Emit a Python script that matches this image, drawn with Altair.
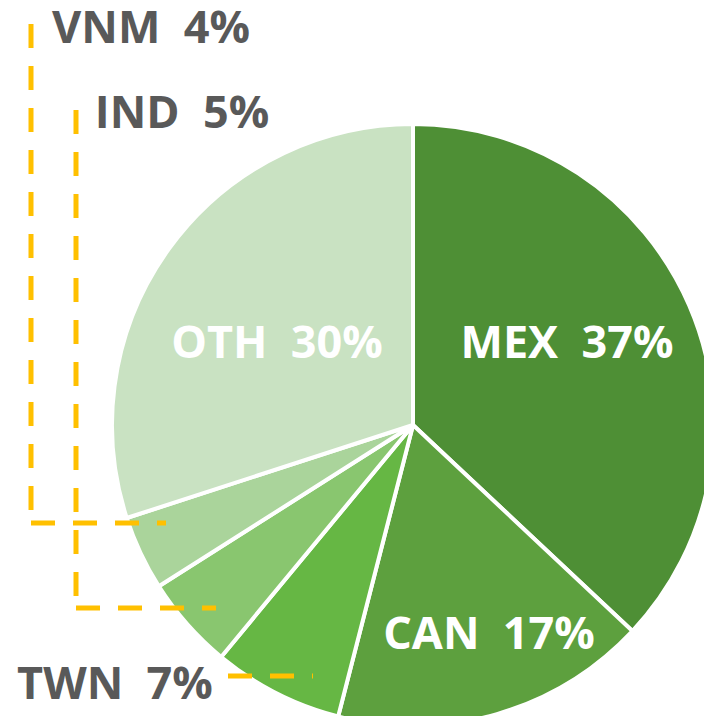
import altair as alt
import pandas as pd

# Data
countries = ["MEX", "CAN", "TWN", "IND", "VNM", "OTH"]
shares = [37, 17, 7, 5, 4, 30]
colors = ["#4E8F35", "#5DA03E", "#66B744", "#89C66F", "#AAD49B", "#C9E2C2"]

# Layout (pixel positions inside the plot area, origin = page + 8px)
OFF = 8
cx, cy, R = 413 - OFF, 425 - OFF, 301

pie_df = pd.DataFrame({"country": countries, "share": shares, "order": list(range(len(countries)))})

label_country = ["MEX", "CAN", "OTH", "VNM", "IND", "TWN"]
label_x = [567, 489, 277, 151, 182, 115]
label_y = [344, 635, 344, 29, 114, 685]
label_color = ["white", "white", "white", "#595959", "#595959", "#595959"]
share_map = dict(zip(countries, shares))
labels_df = pd.DataFrame({
    "text": [f"{c}\u00a0\u00a0{share_map[c]}%" for c in label_country],
    "x": [v - OFF for v in label_x],
    "y": [v - OFF for v in label_y],
    "color": label_color,
})

seg_x = [31, 31, 76, 76, 228]
seg_y = [24, 523, 110, 608, 676]
seg_x2 = [31, 166, 76, 216, 313]
seg_y2 = [523, 523, 608, 608, 676]
lines_df = pd.DataFrame({
    "x": [v - OFF for v in seg_x],
    "y": [v - OFF for v in seg_y],
    "x2": [v - OFF for v in seg_x2],
    "y2": [v - OFF for v in seg_y2],
})

pie = alt.Chart(pie_df).mark_arc(radius=R, stroke="white", strokeWidth=4).encode(
    theta=alt.Theta("share:Q", stack=True),
    order=alt.Order("order:Q"),
    color=alt.Color("country:N", scale=alt.Scale(domain=countries, range=colors), legend=None),
    x=alt.value(cx),
    y=alt.value(cy),
)

lines = alt.Chart(lines_df).mark_rule(
    color="#FFC000", strokeWidth=5, strokeDash=[24, 18]
).encode(
    x=alt.X("x:Q", scale=None),
    y=alt.Y("y:Q", scale=None),
    x2="x2:Q",
    y2="y2:Q",
)

text = alt.Chart(labels_df).mark_text(
    font="Open Sans", fontWeight="bold", fontSize=45, align="center", baseline="middle"
).encode(
    x=alt.X("x:Q", scale=None),
    y=alt.Y("y:Q", scale=None),
    text="text:N",
    color=alt.Color("color:N", scale=None),
)

chart = alt.layer(pie, lines, text).properties(
    width=696, height=708, padding=0, autosize=alt.AutoSizeParams(type="none")
).configure_view(stroke=None)

chart.save("out.html", embed_options={"renderer": "svg", "actions": False})
